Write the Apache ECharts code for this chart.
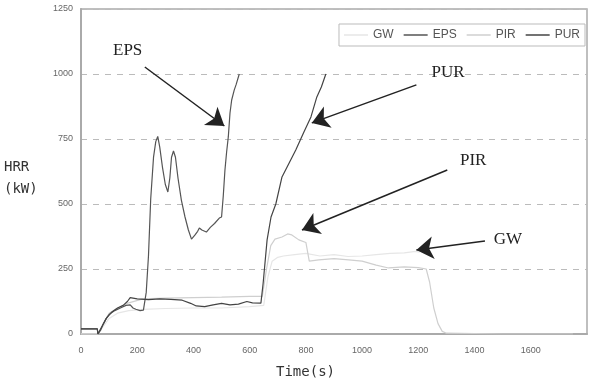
<!DOCTYPE html>
<html><head><meta charset="utf-8">
<script src="https://cdn.jsdelivr.net/npm/echarts@6/dist/echarts.min.js"></script>
<style>html,body{margin:0;padding:0;background:#fff}#c{width:590px;height:378px}</style>
</head><body><div id="c"></div>
<script>
const seriesNames = ['GW', 'EPS', 'PIR', 'PUR'];
const xTicks = [0, 200, 400, 600, 800, 1000, 1200, 1400, 1600];
const yTicks = [0, 250, 500, 750, 1000, 1250];

const gwData = [[0,0],[60,0],[80,30],[100,60],[130,80],[170,90],[220,95],[300,98],[400,100],[500,100],[600,105],[650,110],[665,220],[680,280],[700,295],[720,300],[760,305],[800,310],[850,300],[900,305],[950,298],[1000,300],[1050,305],[1100,310],[1150,312],[1190,318],[1205,315]];
const epsData = [[0,20],[58,20],[60,0],[70,15],[80,40],[90,60],[100,75],[120,90],[140,100],[160,110],[175,112],[185,100],[195,95],[210,90],[222,92],[232,160],[240,300],[248,520],[258,680],[266,740],[273,760],[280,720],[290,640],[300,575],[309,546],[316,600],[322,680],[329,704],[336,680],[345,600],[357,515],[370,450],[382,400],[393,365],[405,380],[415,395],[421,408],[430,400],[446,392],[460,410],[475,425],[492,446],[500,450],[506,530],[512,630],[518,700],[524,758],[530,850],[536,900],[545,938],[552,960],[563,1000]];
const pirData = [[0,0],[60,0],[80,40],[100,80],[130,100],[170,120],[220,135],[300,138],[400,140],[500,142],[600,145],[645,145],[660,250],[675,340],[690,365],[715,373],[735,385],[750,381],[775,362],[800,352],[806,345],[812,280],[846,285],[900,290],[952,285],[1000,280],[1050,265],[1094,254],[1150,258],[1200,255],[1228,250],[1240,200],[1255,100],[1270,40],[1285,10],[1300,3],[1400,2],[1500,0],[1600,0],[1750,0]];
const purData = [[0,20],[58,20],[60,0],[75,30],[90,60],[110,85],[130,100],[150,110],[165,125],[175,140],[200,135],[240,132],[280,135],[320,133],[360,130],[390,118],[410,108],[440,105],[470,112],[500,118],[530,112],[560,115],[590,125],[610,120],[640,119],[648,196],[662,362],[676,450],[693,500],[715,604],[740,657],[764,708],[793,777],[818,835],[839,912],[855,950],[871,1000]];

// annotation arrows: label, label position, arrow start, arrow end (data units)
const annoLabels = ['EPS', 'PUR', 'PIR', 'GW'];
const annoText = [[166,1092],[1306,1004],[1395,669],[1519,362]];
const annoFrom = [[227,1027],[1193,958],[1303,631],[1437,358]];
const annoTo = [[510,800],[821,812],[786,400],[1193,323]];

const colors = ['#e6e6e6', '#555555', '#cfcfcf', '#444444'];
const datas = [gwData, epsData, pirData, purData];

const chart = echarts.init(document.getElementById('c'));
const series = seriesNames.map((n, i) => ({
  name: n, type: 'line', data: datas[i], showSymbol: false, symbol: 'none',
  lineStyle: { color: colors[i], width: 1.2 }, itemStyle: { color: colors[i] },
  z: i === 0 ? 1 : (i === 2 ? 2 : 3), animation: false
}));
series.push({
  name: 'anno', type: 'line', data: [], animation: false,
  markLine: {
    silent: true, animation: false,
    symbol: ['none', 'arrow'], symbolSize: 17,
    lineStyle: { color: '#222', width: 1.5, type: 'solid' },
    itemStyle: { color: '#111' },
    label: { show: false },
    data: annoFrom.map((f, i) => [{ coord: f }, { coord: annoTo[i] }])
  },
  markPoint: {
    silent: true, animation: false, symbol: 'circle', symbolSize: 0,
    label: { show: true, position: 'inside', formatter: '{b}', fontFamily: 'Liberation Serif', fontSize: 17, color: '#222' },
    data: annoText.map((p, i) => ({ name: annoLabels[i], coord: p }))
  }
});

chart.setOption({
  animation: false,
  grid: { left: 81, right: 3, top: 9, bottom: 44, show: true, borderColor: '#aaa', borderWidth: 1.5, backgroundColor: 'transparent' },
  legend: {
    data: seriesNames, right: 5, top: 24, icon: 'rect', itemWidth: 24, itemHeight: 1.5, itemGap: 10,
    backgroundColor: '#fff', borderColor: '#bbb', borderWidth: 1, padding: [5, 5],
    textStyle: { color: '#555', fontSize: 12, fontFamily: 'Liberation Sans' }
  },
  xAxis: {
    type: 'value', min: 0, max: 1800, interval: 200,
    axisLine: { show: true, lineStyle: { color: '#aaa', width: 2 } },
    axisTick: { show: false }, splitLine: { show: false },
    axisLabel: { color: '#666', fontSize: 9, fontFamily: 'Liberation Sans', margin: 12, showMaxLabel: false,
      formatter: v => xTicks.includes(v) ? String(v) : '' }
  },
  yAxis: {
    type: 'value', min: 0, max: 1250, interval: 250,
    axisLine: { show: true, lineStyle: { color: '#aaa', width: 2 } },
    axisTick: { show: false },
    splitLine: { show: true, lineStyle: { color: '#bbb', type: [6, 6], width: 1 } },
    axisLabel: { color: '#666', fontSize: 9, fontFamily: 'Liberation Sans', margin: 8,
      formatter: v => yTicks.includes(v) ? String(v) : '' }
  },
  graphic: [
    { type: 'text', left: 4, top: 156, style: { text: 'HRR\n(kW)', fill: '#333', font: '14px "DejaVu Sans Mono"', lineHeight: 22 } },
    { type: 'text', left: 276, top: 365, style: { text: 'Time(s)', fill: '#333', font: '14px "DejaVu Sans Mono"' } }
  ],
  series
});
</script></body></html>
